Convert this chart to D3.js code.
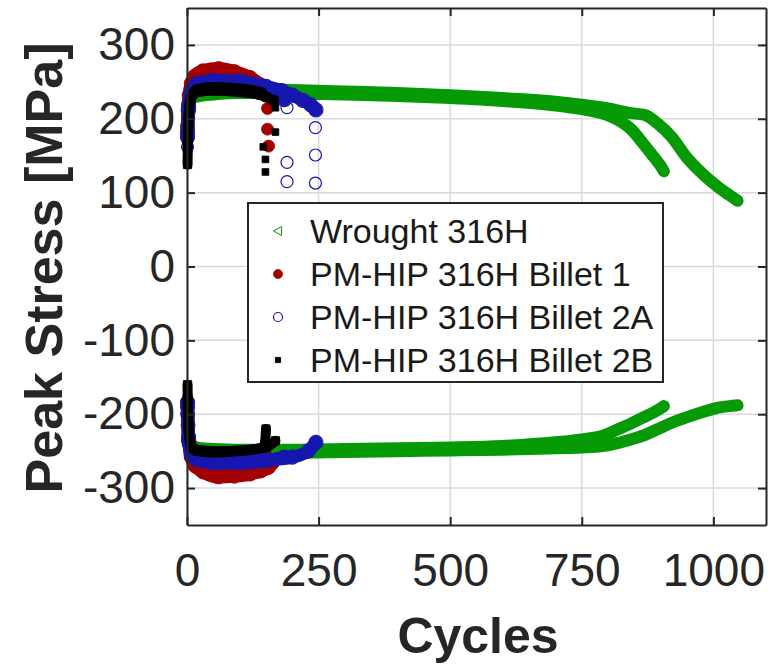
<!DOCTYPE html>
<html>
<head>
<meta charset="utf-8">
<script src="https://cdn.jsdelivr.net/npm/d3@7"></script>
<style>
  body { margin: 0; background: #fff; }
  text { font-family: Arial, "Liberation Sans", Helvetica, sans-serif; }
</style>
</head>
<body>
<svg id="chart" width="774" height="665"></svg>
<script>
// ---- data ----
const xTicks = [0, 250, 500, 750, 1000];
const yTicks = [-300, -200, -100, 0, 100, 200, 300];
const legendLabels = ["Wrought 316H", "PM-HIP 316H Billet 1", "PM-HIP 316H Billet 2A", "PM-HIP 316H Billet 2B"];

// Wrought 316H, specimen 1 (fails ~906 cycles)
const w1Cyc = [1, 3, 10, 25, 50, 100, 200, 300, 400, 500, 600, 700, 750, 790, 820, 845, 865, 885, 900, 906];
const w1Ten = [195, 215, 228, 231, 233, 235, 234, 233, 231, 228, 224, 218, 213, 207, 198, 185, 168, 150, 136, 129];
const w1Com = [-190, -225, -242, -246, -247, -248, -248, -247, -246, -245, -243, -238, -234, -229, -220, -212, -205, -198, -192, -189];
// Wrought 316H, specimen 2 (fails ~1046 cycles)
const w2Cyc = [1, 3, 10, 25, 50, 100, 200, 300, 400, 500, 600, 700, 750, 800, 840, 870, 895, 920, 950, 980, 1010, 1030, 1046];
const w2Ten = [198, 220, 232, 236, 238, 240, 239, 237, 235, 232, 228, 223, 219, 214, 208, 205, 193, 176, 147, 125, 107, 97, 89];
const w2Com = [-195, -228, -245, -249, -251, -252, -252, -251, -250, -249, -248, -246, -245, -242, -235, -228, -220, -212, -204, -197, -191, -189, -188];

// PM-HIP Billet 1
const r1Cyc = [1, 2, 4, 8, 15, 30, 60, 90, 120, 140, 152];
const r1Ten = [190, 212, 232, 248, 258, 265, 268, 264, 256, 246, 236];
const r1ComCyc = [1, 2, 4, 8, 15, 30, 60, 90, 120, 140, 155, 162];
const r1Com = [-184, -215, -240, -258, -270, -278, -285, -284, -281, -277, -272, -266];
const r2Cyc = [1, 3, 8, 20, 50, 100, 140, 150];
const r2Ten = [185, 220, 240, 250, 254, 250, 242, 232];
const r2Com = [-200, -235, -255, -265, -270, -270, -265, -258];
const rDropCyc = [1, 1, 153, 153, 155];
const rDropVal = [199, 172, 214, 186, 163];

// PM-HIP Billet 2A
const b1Cyc = [1, 3, 8, 20, 50, 100, 150, 180, 200, 220, 235, 245];
const b1Ten = [175, 215, 238, 248, 252, 251, 244, 238, 232, 225, 219, 212];
const b1ComCyc = [1, 3, 8, 20, 50, 100, 150, 200, 230, 245];
const b1Com = [-184, -230, -252, -260, -263, -263, -262, -258, -250, -238];
const b2Cyc = [1, 3, 8, 20, 50, 100, 150, 185];
const b2Ten = [180, 212, 234, 243, 246, 244, 236, 226];
const b2Com = [-190, -235, -255, -262, -266, -266, -263, -258];
const bDropCyc = [1, 190, 190, 190, 244, 244, 244, 244];
const bDropVal = [162, 215, 141, 115, 212, 188, 151, 113];

// PM-HIP Billet 2B
const k1Cyc = [1, 2, 4, 8, 20, 50, 100, 140, 150];
const k1Ten = [138, 180, 215, 232, 240, 243, 241, 236, 230];
const k1ComCyc = [1, 2, 4, 8, 20, 50, 100, 140, 148, 150];
const k1Com = [-160, -200, -230, -245, -250, -252, -250, -246, -240, -220];
const k2Cyc = [1, 3, 8, 20, 50, 100, 140, 165];
const k2Ten = [160, 205, 228, 236, 238, 236, 232, 225];
const k2ComCyc = [1, 3, 8, 20, 50, 100, 150, 168];
const k2Com = [-175, -220, -243, -248, -250, -249, -245, -236];
const kDropCyc = [168, 168, 145, 149, 149];
const kDropVal = [215, 182, 162, 145, 128];

// ---- layout ----
const colors = { w: "#069a06", r: "#a30000", b: "#1616b0", k: "#000000" };
const bandWidth = { w: 12, r: 13, b: 13, k: 10 };

const svg = d3.select("#chart");
const x = d3.scaleLinear().domain([0, 1100]).range([187, 766]);
const y = d3.scaleLinear().domain([-350, 350]).range([525, 8]);

// grid
const grid = svg.append("g").attr("stroke", "#dadada").attr("stroke-width", 1.5);
grid.selectAll(".gx").data(xTicks).enter().append("line")
  .attr("x1", d => x(d)).attr("x2", d => x(d)).attr("y1", y(-350)).attr("y2", y(350));
grid.selectAll(".gy").data(yTicks).enter().append("line")
  .attr("y1", d => y(d)).attr("y2", d => y(d)).attr("x1", x(0)).attr("x2", x(1100));

// markers
function triLeft(r) {
  return `M${-r},0L${r * 0.8},${-r}L${r * 0.8},${r}Z`;
}
function markerPath(set, r) {
  if (set === "w") return triLeft(r);
  if (set === "k") return d3.symbol(d3.symbolSquare, (r * 1.5) * (r * 1.5))();
  return d3.symbol(d3.symbolCircle, Math.PI * r * r)();
}
function markerStyle(sel, set) {
  if (set === "w") sel.attr("fill", "none").attr("stroke", colors.w).attr("stroke-width", 1);
  else if (set === "b") sel.attr("fill", "none").attr("stroke", colors.b).attr("stroke-width", 1.2);
  else sel.attr("fill", colors[set]).attr("stroke", colors[set]).attr("stroke-width", 0.8);
}

const specimens = [
  { set: "w", cyc: w1Cyc, val: w1Ten }, { set: "w", cyc: w1Cyc, val: w1Com },
  { set: "w", cyc: w2Cyc, val: w2Ten }, { set: "w", cyc: w2Cyc, val: w2Com },
  { set: "r", cyc: r2Cyc, val: r2Ten }, { set: "r", cyc: r2Cyc, val: r2Com },
  { set: "r", cyc: r1Cyc, val: r1Ten }, { set: "r", cyc: r1ComCyc, val: r1Com },
  { set: "b", cyc: b2Cyc, val: b2Ten }, { set: "b", cyc: b2Cyc, val: b2Com },
  { set: "b", cyc: b1Cyc, val: b1Ten }, { set: "b", cyc: b1ComCyc, val: b1Com },
  { set: "k", cyc: k2Cyc, val: k2Ten }, { set: "k", cyc: k2ComCyc, val: k2Com },
  { set: "k", cyc: k1Cyc, val: k1Ten }, { set: "k", cyc: k1ComCyc, val: k1Com }
];
const drops = [
  { set: "r", cyc: rDropCyc, val: rDropVal },
  { set: "b", cyc: bDropCyc, val: bDropVal },
  { set: "k", cyc: kDropCyc, val: kDropVal }
];

const line = d3.line().x(d => x(d[0])).y(d => y(d[1])).curve(d3.curveMonotoneX);
const dataG = svg.append("g");

["w", "r", "b", "k"].forEach(set => {
  specimens.filter(s => s.set === set).forEach(s => {
    const pts = s.cyc.map((c, i) => [c, s.val[i]]);
    // dense markers render as a solid band
    dataG.append("path").datum(pts)
      .attr("d", line)
      .attr("fill", "none")
      .attr("stroke", colors[set])
      .attr("stroke-width", bandWidth[set])
      .attr("stroke-linecap", "round")
      .attr("stroke-linejoin", "round");
    if (set !== "w") {
      dataG.selectAll(null).data(pts).enter().append("path")
        .attr("transform", d => `translate(${x(d[0])},${y(d[1])})`)
        .attr("d", markerPath(set, bandWidth[set] / 2 + 0.5))
        .call(markerStyle, set);
    }
  });
  drops.filter(s => s.set === set).forEach(s => {
    const pts = s.cyc.map((c, i) => [c, s.val[i]]);
    dataG.selectAll(null).data(pts).enter().append("path")
      .attr("transform", d => `translate(${x(d[0])},${y(d[1])})`)
      .attr("d", markerPath(set, set === "k" ? 4.5 : 6))
      .call(markerStyle, set);
  });
});

// axes
const axisColor = "#262626";
function styleAxis(g) {
  g.select(".domain").attr("stroke", axisColor).attr("stroke-width", 2);
  g.selectAll(".tick line").attr("stroke", axisColor).attr("stroke-width", 2);
  g.selectAll(".tick text").attr("fill", axisColor).attr("font-size", 46)
    .attr("font-family", "Arial, 'Liberation Sans', sans-serif");
}
const plain = d => String(d);
svg.append("g").attr("transform", `translate(0,${y(-350)})`)
  .call(d3.axisBottom(x).tickValues(xTicks).tickSize(-8).tickSizeOuter(0).tickPadding(28).tickFormat(plain))
  .call(styleAxis);
svg.append("g").attr("transform", `translate(0,${y(350)})`)
  .call(d3.axisTop(x).tickValues(xTicks).tickSize(-8).tickSizeOuter(0).tickFormat(""))
  .call(styleAxis);
svg.append("g").attr("transform", `translate(${x(0)},0)`)
  .call(d3.axisLeft(y).tickValues(yTicks).tickSize(-8).tickSizeOuter(0).tickPadding(12).tickFormat(plain))
  .call(styleAxis);
svg.append("g").attr("transform", `translate(${x(1100)},0)`)
  .call(d3.axisRight(y).tickValues(yTicks).tickSize(-8).tickSizeOuter(0).tickFormat(""))
  .call(styleAxis);

// axis titles
svg.append("text")
  .attr("x", 478).attr("y", 653)
  .attr("text-anchor", "middle")
  .attr("font-size", 50).attr("font-weight", "bold").attr("fill", axisColor)
  .text("Cycles");
svg.append("text")
  .attr("transform", "translate(62,268) rotate(-90)")
  .attr("text-anchor", "middle")
  .attr("font-size", 52).attr("font-weight", "bold").attr("fill", axisColor)
  .text("Peak Stress [MPa]");

// legend
const legend = svg.append("g");
legend.append("rect")
  .attr("x", 248).attr("y", 203).attr("width", 415).attr("height", 179)
  .attr("fill", "#fff").attr("stroke", axisColor).attr("stroke-width", 2);
const legendSets = ["w", "r", "b", "k"];
const rowY = d3.scalePoint().domain(legendLabels).range([231, 360]);
legendLabels.forEach((lab, i) => {
  const set = legendSets[i];
  legend.append("path")
    .attr("transform", `translate(278,${rowY(lab)})`)
    .attr("d", markerPath(set, set === "k" ? 3.5 : 4.5))
    .call(markerStyle, set);
  legend.append("text")
    .attr("x", 310).attr("y", rowY(lab) + 12)
    .attr("font-size", 34).attr("fill", "#1a1a1a")
    .text(lab);
});
</script>
</body>
</html>
